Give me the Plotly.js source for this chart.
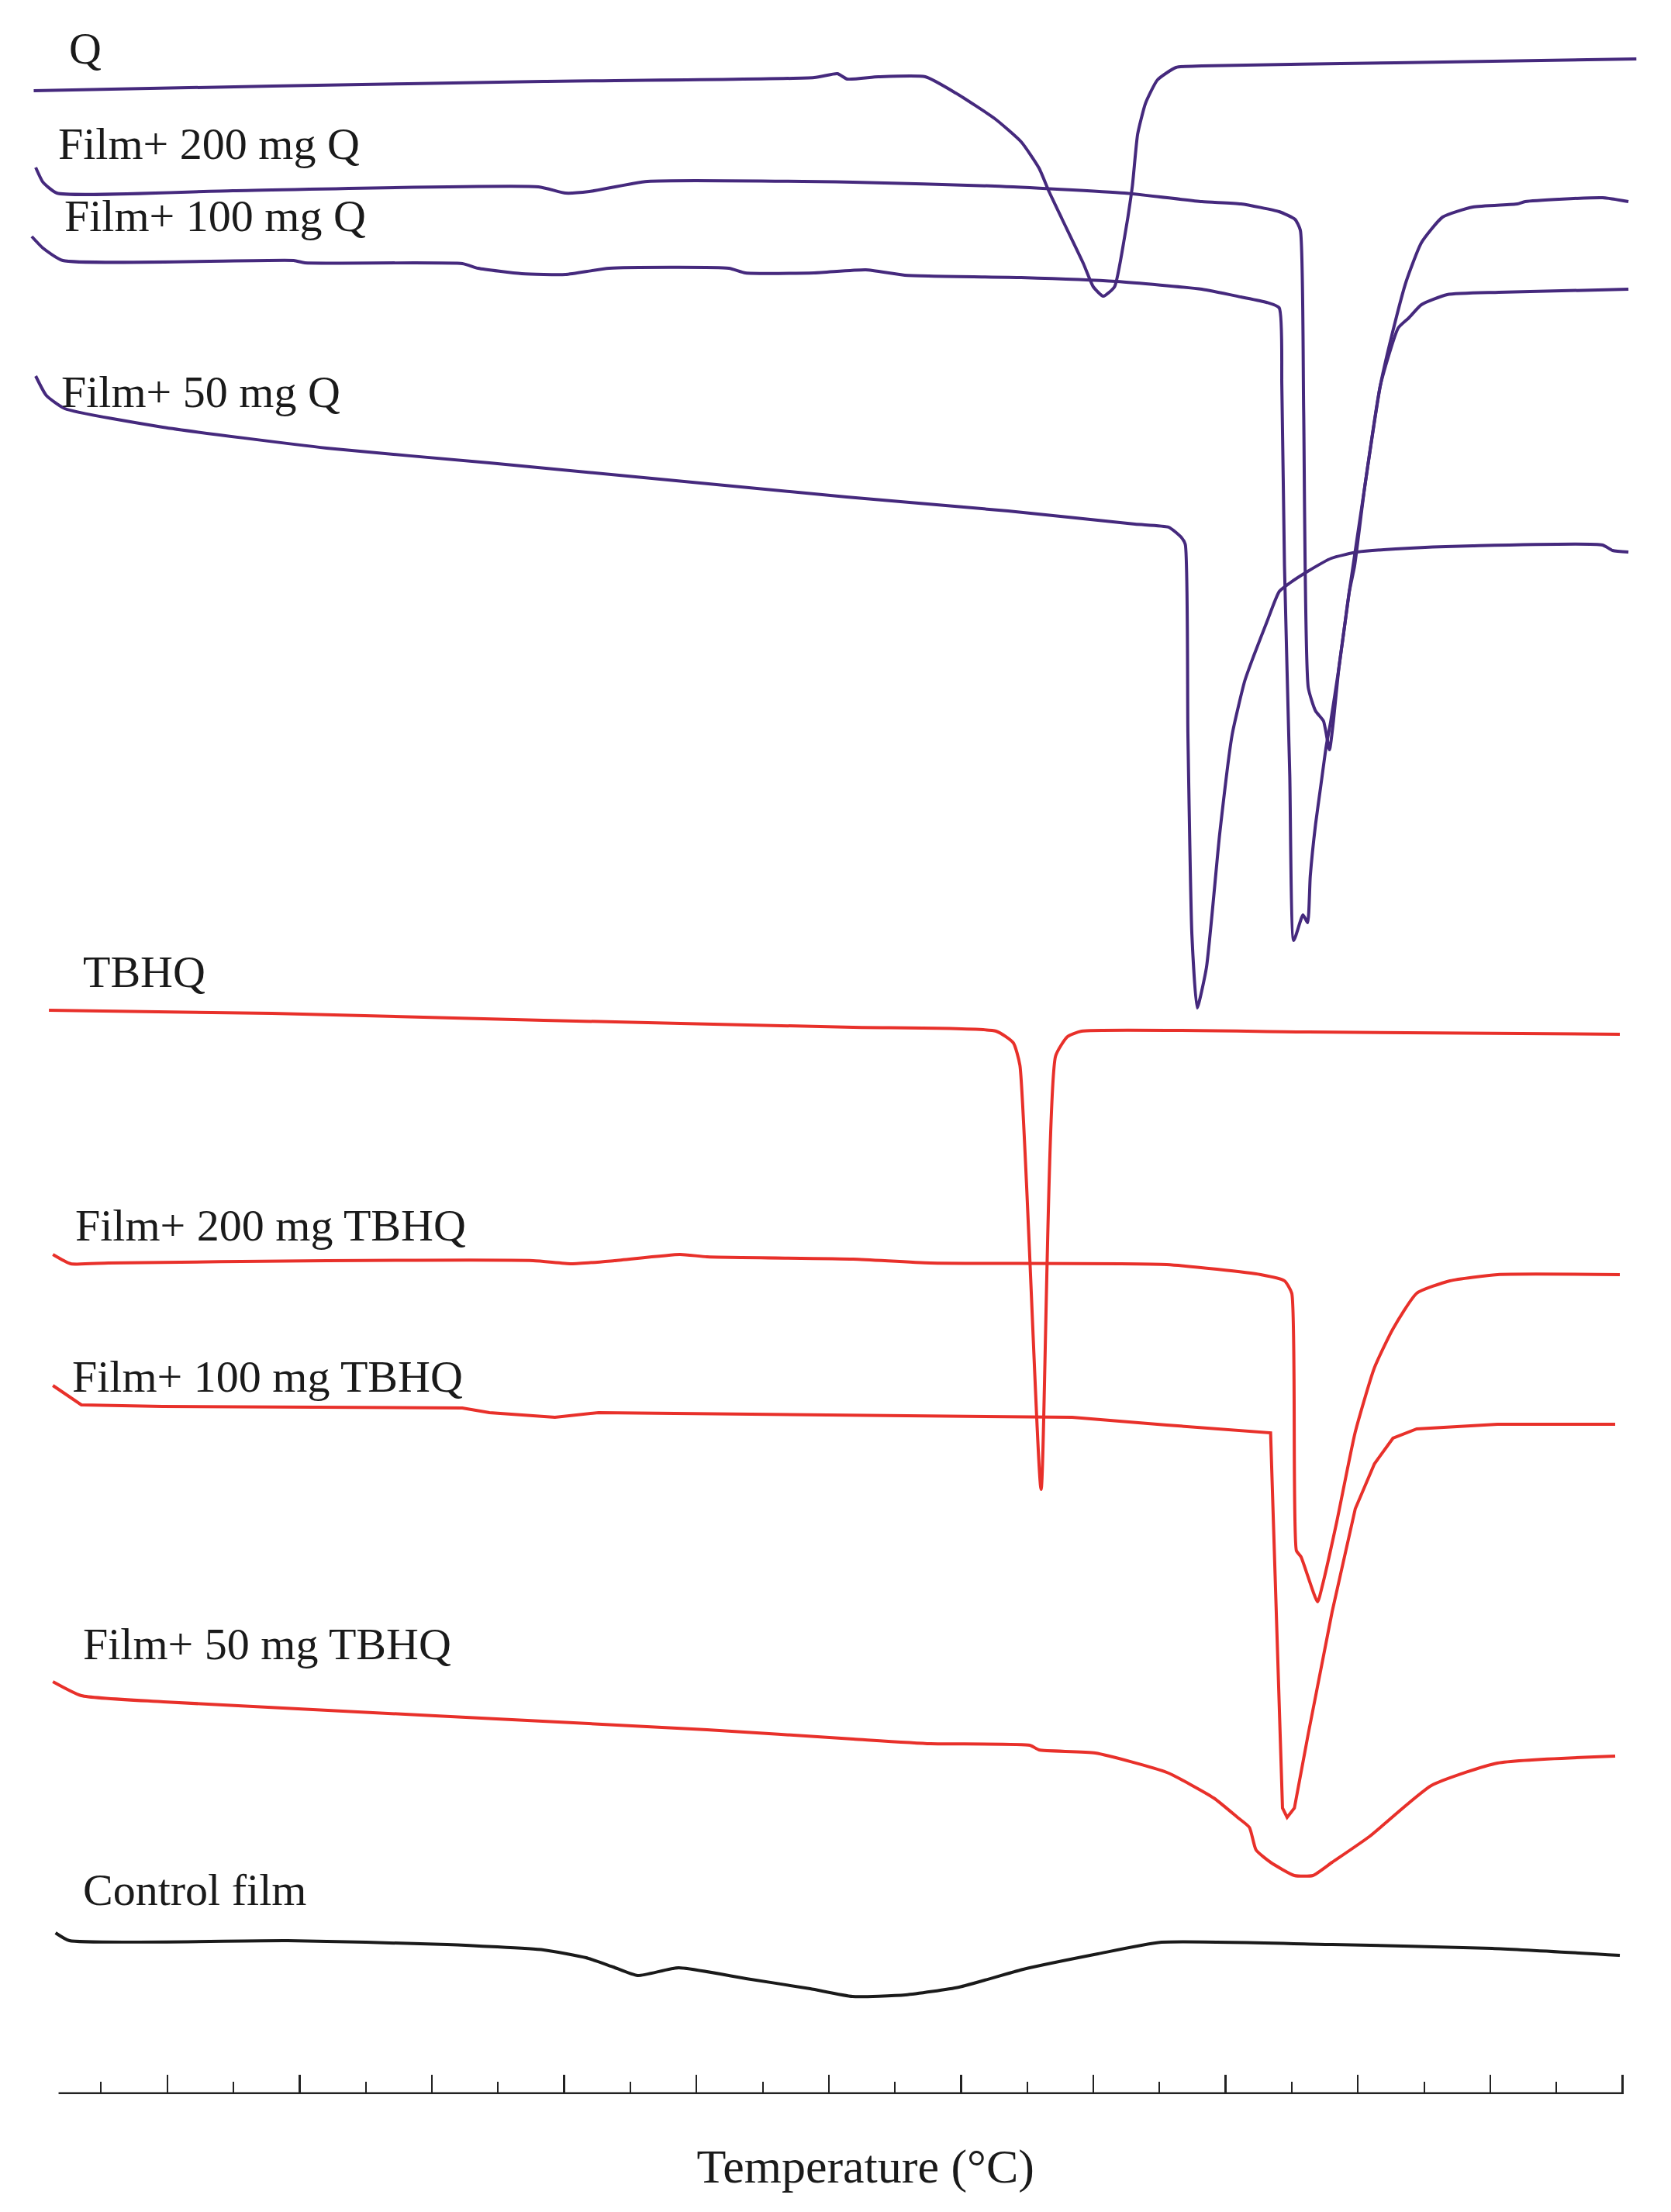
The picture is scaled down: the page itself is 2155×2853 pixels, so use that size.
<!DOCTYPE html>
<html>
<head>
<meta charset="utf-8">
<script src="https://cdn.plot.ly/plotly-3.0.1.min.js"></script>
<style>
  body { margin: 0; background: #fff; }
  #myPlot { width: 2155px; height: 2853px; }
</style>
</head>
<body>
<div id="myPlot"></div>
<script>
// DSC thermograms, temperature in °C, heat flow in arbitrary units (curves offset)

var qT    = [19.8, 55.9, 96.9, 137.8, 141.3, 142.8, 147.5, 154.6, 159.2, 165.1, 169.1, 171.8, 173.3, 175.3, 178.5, 180.0, 181.5, 183.2, 184.7, 185.9, 186.7, 187.9, 189.7, 192.5, 196.4, 225.7, 262.1];
var qHF   = [25.84, 25.90, 25.96, 26.01, 26.06, 25.99, 26.02, 26.02, 25.81, 25.48, 25.18, 24.84, 24.54, 24.18, 23.61, 23.31, 23.19, 23.31, 23.94, 24.61, 25.28, 25.68, 25.98, 26.14, 26.16, 26.20, 26.25];

var q200T  = [20.1, 21.2, 23.3, 49.9, 96.1, 100.2, 103.8, 112.6, 143.7, 165.1, 184.7, 196.4, 202.3, 208.1, 210.5, 211.3, 211.8, 212.5, 213.6, 214.8, 215.7, 216.3, 217.1, 217.9, 218.7, 219.5, 221.0, 223.4, 225.7, 227.3, 229.6, 232.8, 237.4, 244.1, 245.3, 257.0, 260.9];
var q200HF = [24.85, 24.66, 24.52, 24.55, 24.60, 24.52, 24.54, 24.67, 24.66, 24.61, 24.52, 24.41, 24.38, 24.28, 24.18, 24.04, 21.71, 18.14, 17.84, 17.71, 17.34, 17.71, 18.38, 18.88, 19.38, 19.71, 20.71, 22.04, 22.88, 23.38, 23.88, 24.21, 24.34, 24.38, 24.41, 24.46, 24.41];

var q100T  = [19.5, 21.2, 24.2, 59.1, 60.8, 84.6, 87.0, 93.6, 100.2, 106.8, 124.9, 127.4, 137.8, 145.6, 151.5, 169.1, 183.5, 196.4, 202.3, 206.2, 208.1, 208.5, 208.9, 209.7, 210.3, 211.7, 212.4, 212.8, 213.6, 214.4, 215.2, 215.9, 217.1, 218.7, 221.0, 223.4, 226.1, 227.7, 229.6, 233.5, 241.3, 260.9];
var q100HF = [23.96, 23.81, 23.65, 23.65, 23.62, 23.61, 23.55, 23.48, 23.47, 23.55, 23.55, 23.49, 23.49, 23.53, 23.46, 23.43, 23.38, 23.28, 23.18, 23.11, 23.04, 22.04, 19.71, 17.01, 14.88, 15.21, 15.11, 15.71, 16.38, 16.88, 17.38, 17.71, 18.38, 19.38, 20.71, 22.04, 22.78, 22.91, 23.08, 23.21, 23.24, 23.28];

var q50T   = [20.1, 21.7, 24.5, 39.3, 64.1, 88.7, 142.7, 167.1, 186.3, 191.4, 193.3, 193.9, 194.3, 194.9, 195.7, 197.1, 199.1, 201.0, 202.9, 204.2, 206.2, 208.1, 209.7, 212.4, 216.0, 219.9, 225.7, 237.4, 257.0, 258.5, 260.9];
var q50HF  = [22.16, 21.91, 21.74, 21.50, 21.23, 21.04, 20.60, 20.42, 20.25, 20.21, 20.08, 19.99, 17.54, 14.96, 14.01, 14.53, 16.25, 17.54, 18.23, 18.54, 18.98, 19.38, 19.49, 19.64, 19.81, 19.89, 19.93, 19.97, 19.98, 19.91, 19.89];

var tbhqT  = [22.1, 55.8, 96.9, 143.7, 165.3, 167.9, 168.9, 172.1, 174.3, 176.1, 178.2, 212.5, 259.6];
var tbhqHF = [13.98, 13.94, 13.85, 13.76, 13.71, 13.56, 13.27, 7.80, 13.39, 13.64, 13.71, 13.70, 13.67];

var t200T  = [22.7, 25.4, 31.1, 64.1, 95.3, 101.1, 107.6, 117.5, 121.6, 143.7, 155.4, 191.1, 205.3, 208.9, 210.0, 210.7, 211.4, 213.9, 214.6, 216.8, 219.6, 222.5, 225.3, 228.9, 233.9, 241.1, 259.6];
var t200HF = [10.83, 10.71, 10.72, 10.75, 10.75, 10.71, 10.75, 10.83, 10.80, 10.77, 10.72, 10.70, 10.57, 10.49, 10.33, 7.01, 6.93, 6.35, 6.55, 7.38, 8.54, 9.37, 9.87, 10.33, 10.49, 10.57, 10.57];

var t100T  = [22.7, 27.0, 39.3, 84.6, 88.7, 98.6, 105.2, 143.7, 155.4, 176.8, 191.1, 206.8, 208.6, 209.3, 210.4, 212.5, 216.1, 219.6, 222.5, 225.3, 228.9, 241.1, 258.9];
var t100HF = [9.14, 8.89, 8.87, 8.85, 8.79, 8.73, 8.79, 8.76, 8.75, 8.73, 8.63, 8.53, 3.69, 3.57, 3.69, 4.65, 6.22, 7.55, 8.13, 8.46, 8.58, 8.64, 8.64];

var t50T   = [22.7, 27.0, 39.4, 80.5, 121.6, 143.7, 155.4, 170.4, 171.8, 180.3, 191.1, 198.2, 201.8, 203.6, 204.6, 206.8, 210.4, 213.2, 216.1, 221.7, 231.1, 241.1, 258.9];
var t50HF  = [5.32, 5.14, 5.06, 4.88, 4.70, 4.58, 4.52, 4.50, 4.44, 4.40, 4.15, 3.82, 3.57, 3.44, 3.15, 2.99, 2.82, 2.82, 2.99, 3.32, 3.98, 4.27, 4.36];

var ctrlT  = [23.1, 25.2, 58.2, 82.3, 96.9, 103.3, 107.4, 111.1, 117.3, 127.5, 137.2, 143.6, 151.6, 159.7, 169.4, 180.7, 190.3, 216.1, 240.3, 259.6];
var ctrlHF = [2.08, 1.98, 1.98, 1.93, 1.86, 1.76, 1.64, 1.53, 1.63, 1.49, 1.36, 1.26, 1.28, 1.38, 1.61, 1.81, 1.96, 1.93, 1.88, 1.79];

// curve labels
var labels  = ["Q", "Film+ 200 mg Q", "Film+ 100 mg Q", "Film+ 50 mg Q", "TBHQ", "Film+ 200 mg TBHQ", "Film+ 100 mg TBHQ", "Film+ 50 mg TBHQ", "Control film"];
var labelX  = [24.9, 23.3, 24.2, 23.7, 27.0, 25.8, 25.4, 27.0, 27.0];
var labelY  = [26.39, 25.16, 24.23, 21.96, 14.48, 11.21, 9.26, 5.81, 2.64];

// axis ticks
var majorTicks = [40, 60, 80, 100, 120, 140, 160, 180, 200, 220, 240, 260];
var minorTicks = [30, 50, 70, 90, 110, 130, 150, 170, 190, 210, 230, 250];

var purple = "#45297d";
var red = "#e8302a";
var black = "#1a1a1a";
var serif = "Liberation Serif, Times New Roman, serif";

function curve(x, y, color, shape){
  return {
    x: x,
    y: y,
    mode: "lines",
    line: {color: color, width: 4, shape: shape || "spline", smoothing: 0.5},
    hoverinfo: "skip",
    showlegend: false
  };
}

var data = [
  curve(qT, qHF, purple),
  curve(q200T, q200HF, purple),
  curve(q100T, q100HF, purple),
  curve(q50T, q50HF, purple),
  curve(tbhqT, tbhqHF, red),
  curve(t200T, t200HF, red),
  curve(t100T, t100HF, red, "linear"),  // spline bends the sharp drop
  curve(t50T, t50HF, red),
  curve(ctrlT, ctrlHF, black)
];

var annotations = [];
for (var i = 0; i < labels.length; i++){
  annotations.push({
    x: labelX[i],
    y: labelY[i],
    xref: "x",
    yref: "y",
    text: labels[i],
    showarrow: false,
    xanchor: "left",
    yanchor: "middle",
    font: {family: serif, size: 58, color: black}
  });
}

var layout = {
  width: 2155,
  height: 2853,
  margin: {l: 30, r: 30, t: 20, b: 152},
  paper_bgcolor: "#fff",
  plot_bgcolor: "#fff",
  showlegend: false,
  xaxis: {
    range: [18.22, 263.82],
    showgrid: false,
    zeroline: false,
    showline: false,
    showticklabels: false,
    ticks: "inside",
    tickmode: "array",
    tickvals: majorTicks,
    ticklen: 25,
    tickwidth: 2.5,
    tickcolor: "#222",
    minor: {tickvals: minorTicks, ticks: "inside", ticklen: 16, tickwidth: 2, tickcolor: "#222", showgrid: false},
    // leading spaces push the centred title right, like the original
    title: {text: "&nbsp;&nbsp;&nbsp;&nbsp;&nbsp;Temperature (°C)", font: {family: serif, size: 62, color: black}, standoff: 70}
  },
  yaxis: {
    range: [0, 26.81],
    visible: false,
    showgrid: false,
    zeroline: false
  },
  shapes: [{
    type: "line",
    xref: "x",
    yref: "y",
    x0: 23.56,
    x1: 259.92,
    y0: 0,
    y1: 0,
    line: {color: "#222", width: 5}
  }],
  annotations: annotations
};

Plotly.newPlot("myPlot", data, layout, {staticPlot: true});
</script>
</body>
</html>
